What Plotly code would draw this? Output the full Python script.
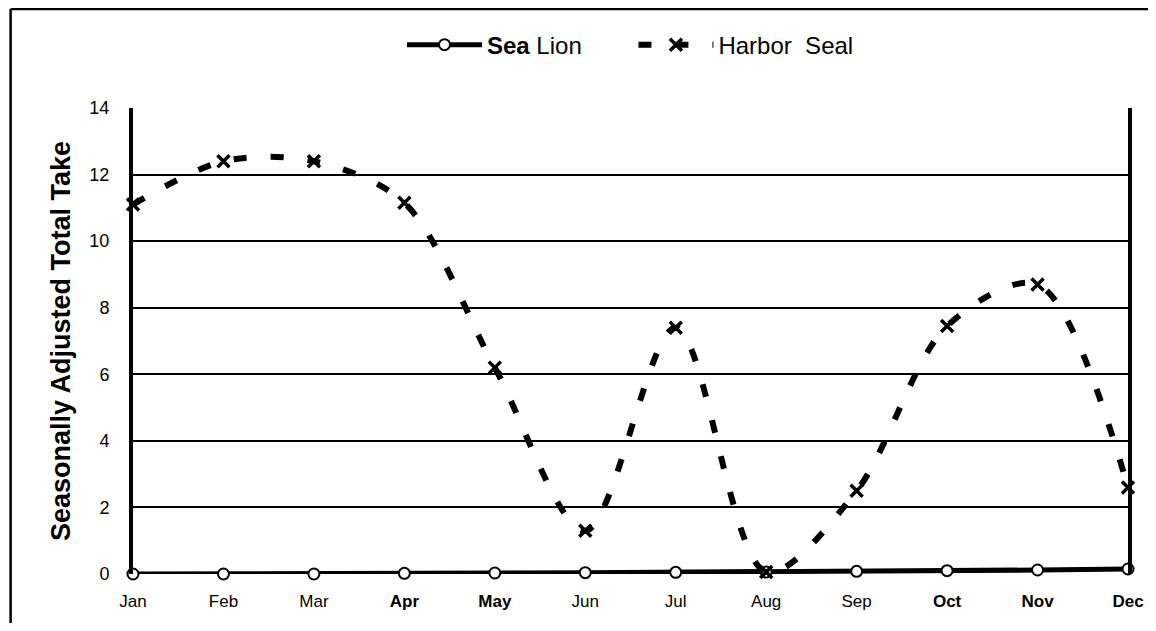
import plotly.graph_objects as go

months = ['Jan', 'Feb', 'Mar', 'Apr', 'May', 'Jun', 'Jul', 'Aug', 'Sep', 'Oct', 'Nov', 'Dec']
month_labels = ['Jan', 'Feb', 'Mar', '<b>Apr</b>', '<b>May</b>', 'Jun', 'Jul', 'Aug', 'Sep',
                '<b>Oct</b>', '<b>Nov</b>', '<b>Dec</b>']
sea_lion = [0.0, 0.0, 0.0, 0.02, 0.03, 0.04, 0.05, 0.06, 0.08, 0.1, 0.12, 0.15]
harbor_seal = [11.1, 12.4, 12.4, 11.15, 6.2, 1.3, 7.4, 0.06, 2.5, 7.45, 8.7, 2.6]
y_ticks = [0, 2, 4, 6, 8, 10, 12, 14]

xi = list(range(len(months)))
font = "Liberation Sans, Arial, sans-serif"

fig = go.Figure()

fig.add_trace(go.Scatter(
    x=xi, y=sea_lion, name='<b>Sea</b> Lion       ', mode='lines+markers',
    line=dict(color='black', width=5),
    marker=dict(symbol='circle', size=11, color='white', line=dict(color='black', width=2)),
    cliponaxis=False,
))

fig.add_trace(go.Scatter(
    x=xi, y=harbor_seal, name='Harbor  Seal', mode='lines+markers',
    line=dict(color='black', width=6, dash='13px,24px', shape='spline', smoothing=0.9),
    marker=dict(symbol='x-thin', size=12, color='black', line=dict(color='black', width=3.5)),
    cliponaxis=False,
))

# page body has an 8px margin, so the figure is sized to fit inside the window
fig.update_layout(
    width=1148, height=615,
    margin=dict(l=125, r=23, t=100, b=49),
    paper_bgcolor='white', plot_bgcolor='white',
    font=dict(family=font, color='black'),
    showlegend=True,
    legend=dict(orientation='h', x=0.5, xanchor='center', y=1.135, yanchor='middle',
                font=dict(size=24, family=font), itemwidth=75, traceorder='normal'),
    shapes=[
        dict(type='line', xref='paper', yref='paper', x0=-0.123, x1=1.03, y0=1.2124, y1=1.2124,
             line=dict(color='black', width=2.5)),
        dict(type='line', xref='paper', yref='paper', x0=-0.123, x1=-0.123, y0=1.2124, y1=-0.13,
             line=dict(color='black', width=2.5)),
    ],
)

fig.update_xaxes(
    range=[0, 11], tickmode='array', tickvals=xi, ticktext=month_labels,
    showgrid=False, zeroline=False, showline=False,
    ticks='outside', ticklen=12, tickcolor='rgba(0,0,0,0)',
    tickfont=dict(size=17, family=font), ticklabeloverflow='allow',
)

fig.update_yaxes(
    range=[0, 14], tickmode='array', tickvals=y_ticks,
    showgrid=True, gridcolor='black', gridwidth=2,
    zeroline=False, showline=True, linecolor='black', linewidth=4, mirror=True,
    ticks='outside', ticklen=16, tickcolor='rgba(0,0,0,0)',
    tickfont=dict(size=18, family=font),
    title=dict(text='<b>Seasonally Adjusted Total Take</b>', font=dict(size=27, family=font), standoff=12),
)

fig.write_html("out.html")
